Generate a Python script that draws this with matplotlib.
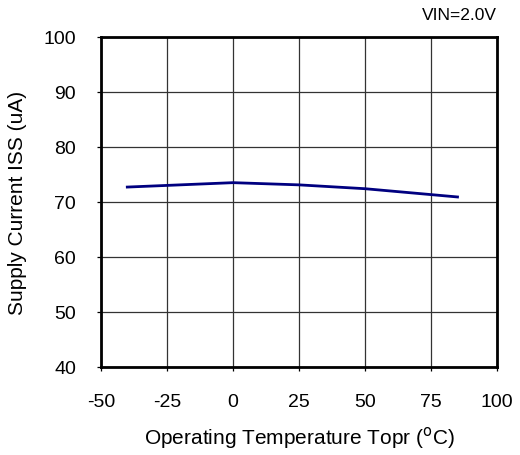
import matplotlib
matplotlib.use("Agg")
import matplotlib.pyplot as plt

plt.rcParams["font.family"] = ["Liberation Sans", "DejaVu Sans"]
plt.rcParams["axes.unicode_minus"] = False

# Operating temperature (C) and supply current (uA)
temp_c = [-40, 0, 25, 50, 85]
iss_ua = [72.7, 73.5, 73.1, 72.4, 70.9]

x_ticks = [-50, -25, 0, 25, 50, 75, 100]
y_ticks = [40, 50, 60, 70, 80, 90, 100]

fig = plt.figure(figsize=(5.2, 4.56), dpi=100)
ax = fig.add_axes([0.194, 0.193, 0.762, 0.724])

ax.plot(temp_c, iss_ua, color="#000080", linewidth=2.0)

ax.set_xlim(-50, 100)
ax.set_ylim(40, 100)
ax.set_xticks(x_ticks)
ax.set_yticks(y_ticks)
ax.grid(True, color="#333333", linewidth=0.9)
ax.tick_params(axis="both", labelsize=14, length=3, width=0.9, direction="out")
ax.tick_params(axis="x", pad=16)
ax.tick_params(axis="y", pad=15)
for s in ax.spines.values():
    s.set_linewidth(2)
    s.set_color("black")

ax.set_xlabel("Operating Temperature Topr ($^{\\rm o}$C)", fontsize=15, labelpad=10)
ax.set_ylabel("Supply Current ISS (uA)", fontsize=15, labelpad=12)
ax.text(1.0, 1.045, "VIN=2.0V", transform=ax.transAxes, ha="right", va="bottom", fontsize=12.5)

fig.savefig("out.png", dpi=100)
